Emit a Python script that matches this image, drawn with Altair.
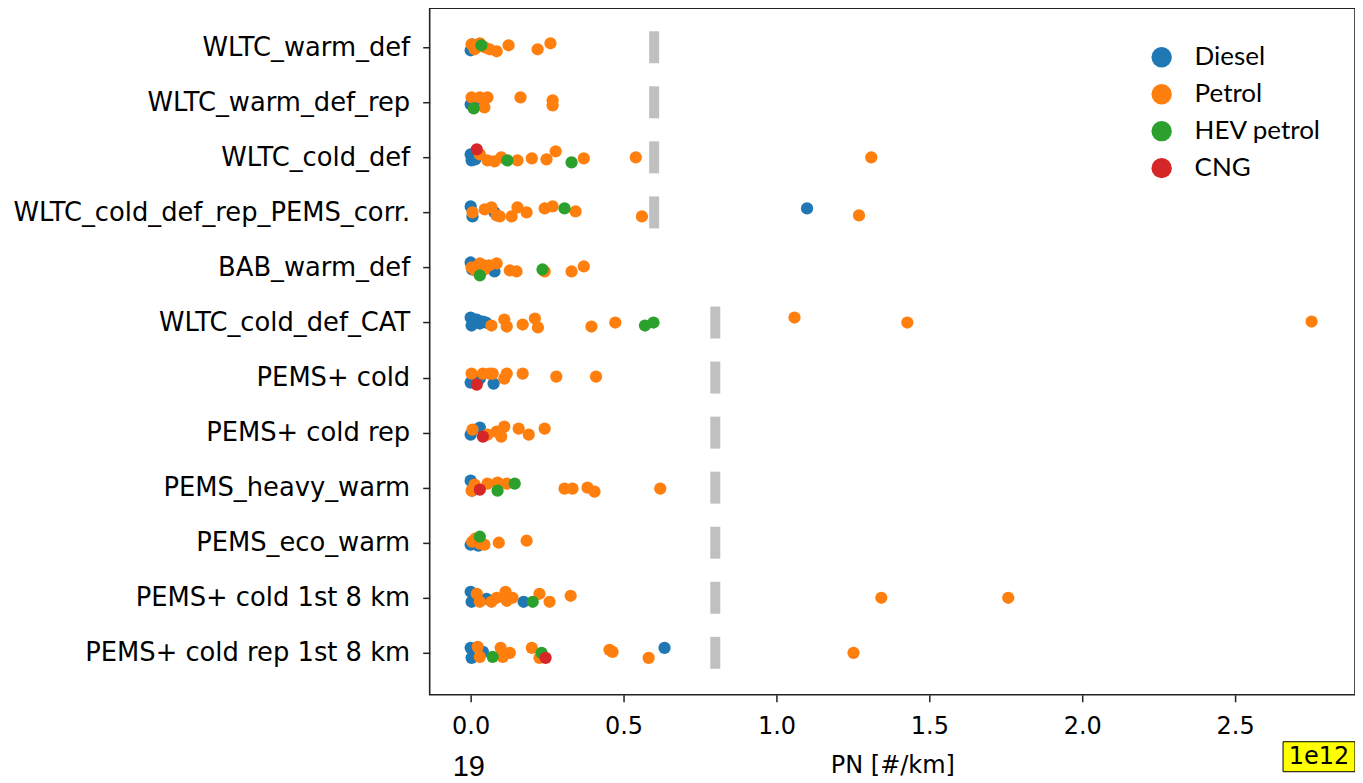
import altair as alt
import pandas as pd

categories = [
    "WLTC_warm_def",
    "WLTC_warm_def_rep",
    "WLTC_cold_def",
    "WLTC_cold_def_rep_PEMS_corr.",
    "BAB_warm_def",
    "WLTC_cold_def_CAT",
    "PEMS+ cold",
    "PEMS+ cold rep",
    "PEMS_heavy_warm",
    "PEMS_eco_warm",
    "PEMS+ cold 1st 8 km",
    "PEMS+ cold rep 1st 8 km",
]

fuels = ["Diesel", "Petrol", "HEV petrol", "CNG"]
fuel_colors = ["#1f77b4", "#ff7f0e", "#2ca02c", "#d62728"]

# (category index, PN [1e12 #/km], strip jitter)
diesel = [
    (0, 0.0, 3), (0, 0.005, -3),
    (1, 0.0, 2), (1, 0.03, 0),
    (2, 0.0, -3), (2, 0.003, 3), (2, 0.008, 0), (2, 0.012, -2), (2, 0.015, 2),
    (3, 0.0, -6), (3, 0.006, 4), (3, 0.078, 0), (3, 1.10, -4),
    (4, 0.0, -5), (4, 0.005, 2), (4, 0.04, -2), (4, 0.078, 4),
    (5, 0.0, -5), (5, 0.003, 3), (5, 0.01, 0), (5, 0.02, -3), (5, 0.03, 1), (5, 0.04, -1), (5, 0.05, 0),
    (6, 0.0, 5), (6, 0.03, 1), (6, 0.075, 6),
    (7, 0.0, 2), (7, 0.03, -5),
    (8, 0.0, -7), (8, 0.005, 3),
    (9, 0.0, 2), (9, 0.025, 3),
    (10, 0.0, -6), (10, 0.003, 4), (10, 0.052, 1), (10, 0.173, 4),
    (11, 0.0, -5), (11, 0.003, 5), (11, 0.04, -1), (11, 0.634, -5),
]

petrol = [
    (0, 0.003, -3), (0, 0.013, 2), (0, 0.03, -4), (0, 0.046, 0), (0, 0.062, 2),
    (0, 0.085, 4), (0, 0.124, -2), (0, 0.219, 2), (0, 0.261, -4),
    (1, 0.003, -5), (1, 0.03, -5), (1, 0.045, 5), (1, 0.055, -5), (1, 0.163, -5),
    (1, 0.268, -2), (1, 0.268, 3),
    (2, 0.03, -3), (2, 0.055, 3), (2, 0.078, 4), (2, 0.1, 0), (2, 0.153, 3), (2, 0.2, 1),
    (2, 0.248, 2), (2, 0.278, -6), (2, 0.37, 1), (2, 0.54, 0), (2, 1.31, 0),
    (3, 0.006, 0), (3, 0.046, -3), (3, 0.068, -5), (3, 0.085, 3), (3, 0.095, 4),
    (3, 0.134, 4), (3, 0.153, -5), (3, 0.183, 0), (3, 0.242, -4), (3, 0.268, -6),
    (3, 0.343, -1), (3, 0.56, 4), (3, 1.27, 3),
    (4, 0.003, 0), (4, 0.015, 3), (4, 0.03, -4), (4, 0.045, 2), (4, 0.06, -2),
    (4, 0.085, -4), (4, 0.128, 3), (4, 0.15, 4), (4, 0.242, 4), (4, 0.33, 4), (4, 0.37, -1),
    (5, 0.068, 3), (5, 0.11, -3), (5, 0.118, 4), (5, 0.17, 2), (5, 0.21, -4), (5, 0.22, 5),
    (5, 0.395, 4), (5, 0.473, 0), (5, 1.059, -5), (5, 1.428, 0), (5, 2.75, -1),
    (6, 0.003, -4), (6, 0.04, -4), (6, 0.062, -4), (6, 0.072, -4), (6, 0.11, 1),
    (6, 0.118, -4), (6, 0.17, -4), (6, 0.28, -1), (6, 0.41, -1),
    (7, 0.006, -3), (7, 0.055, 2), (7, 0.085, -1), (7, 0.1, 4), (7, 0.11, -6),
    (7, 0.157, -4), (7, 0.19, 2), (7, 0.242, -4),
    (8, 0.003, 3), (8, 0.013, -3), (8, 0.055, -4), (8, 0.088, -5), (8, 0.118, -4),
    (8, 0.307, 1), (8, 0.333, 1), (8, 0.382, 0), (8, 0.405, 4), (8, 0.62, 1),
    (9, 0.005, -1), (9, 0.015, -4), (9, 0.03, 1), (9, 0.045, 2), (9, 0.092, 0), (9, 0.183, -2),
    (10, 0.02, -4), (10, 0.03, 4), (10, 0.068, 4), (10, 0.085, 0), (10, 0.114, -6),
    (10, 0.118, 3), (10, 0.137, 0), (10, 0.225, -4), (10, 0.258, 4), (10, 0.327, -2),
    (10, 1.343, 0), (10, 1.758, 0),
    (11, 0.023, -6), (11, 0.03, 4), (11, 0.098, -5), (11, 0.105, 4), (11, 0.128, 0),
    (11, 0.2, -5), (11, 0.225, 5), (11, 0.454, -3), (11, 0.464, -1), (11, 0.582, 5),
    (11, 1.252, 0),
]

hev_petrol = [
    (0, 0.035, -2),
    (1, 0.01, 6),
    (2, 0.12, 3), (2, 0.33, 5),
    (3, 0.307, -4),
    (4, 0.03, 8), (4, 0.235, 2),
    (5, 0.57, 3), (5, 0.598, 0),
    (8, 0.088, 3), (8, 0.144, -4),
    (9, 0.03, -6),
    (10, 0.203, 4),
    (11, 0.072, 4), (11, 0.232, 0),
]

cng = [
    (2, 0.02, -8),
    (6, 0.02, 7),
    (7, 0.04, 4),
    (8, 0.03, 2),
    (11, 0.245, 5),
]

# limit markers (grey dashes) per test, in 1e12 #/km
limit_tests = [0, 1, 2, 3, 5, 6, 7, 8, 9, 10, 11]
limit_values = [0.6, 0.6, 0.6, 0.6, 0.8, 0.8, 0.8, 0.8, 0.8, 0.8, 0.8]

x_ticks = [0.0, 0.5, 1.0, 1.5, 2.0, 2.5]

records = []
for fuel, pts in zip(fuels, [diesel, petrol, hev_petrol, cng]):
    for ci, v, j in pts:
        records.append({"test": categories[ci], "fuel": fuel, "pn": v, "jit": j})
df = pd.DataFrame(records)

lim_df = pd.DataFrame({"test": [categories[i] for i in limit_tests], "limit": limit_values})

x_scale = alt.Scale(domain=[-0.134, 2.892], nice=False, zero=False)
y_scale = alt.Scale(type="point", range=[39, 645], padding=0)

x_enc_axis = alt.Axis(
    values=x_ticks, format=".1f", title="PN [#/km]",
    labelFont="DejaVu Sans", labelFontSize=24, labelColor="black",
    labelBaseline="alphabetic", labelPadding=32,
    tickSize=7, tickWidth=1.5, tickColor="#222",
    titleFont="DejaVu Sans", titleFontSize=24, titleFontWeight="normal",
    titleColor="black", titleBaseline="alphabetic", titleY=78,
    domain=False, grid=False,
)
y_enc_axis = alt.Axis(
    title=None, labelFont="DejaVu Sans", labelFontSize=25.8, labelColor="black",
    labelPadding=13, labelLimit=0, tickSize=7, tickWidth=1.5, tickColor="#222",
    domain=False, grid=False,
)

limits = alt.Chart(lim_df).mark_tick(color="#c0c0c0", thickness=10, size=32, opacity=1).encode(
    x=alt.X("limit:Q", scale=x_scale, axis=x_enc_axis),
    y=alt.Y("test:N", sort=categories, scale=y_scale, axis=y_enc_axis),
)

points = alt.Chart(df).mark_circle(size=150, opacity=1).encode(
    x=alt.X("pn:Q", scale=x_scale, axis=x_enc_axis),
    y=alt.Y("test:N", sort=categories, scale=y_scale, axis=y_enc_axis),
    yOffset=alt.YOffset("jit:Q", scale=alt.Scale(domain=[-27.5, 27.5], range=[-27.5, 27.5])),
    color=alt.Color(
        "fuel:N",
        scale=alt.Scale(domain=fuels, range=fuel_colors),
        legend=alt.Legend(
            orient="none", legendX=719.5, legendY=36, title=None,
            labelFont="Lato", labelFontSize=26, labelColor="black",
            symbolType="circle", symbolSize=415, symbolStrokeWidth=0,
            symbolOpacity=1, rowPadding=11, labelOffset=20, padding=0,
        ),
    ),
)

page_no = alt.Chart(pd.DataFrame({"t": ["19"]})).mark_text(
    font="Liberation Sans", fontSize=29, align="left", baseline="alphabetic", color="black"
).encode(text="t:N", x=alt.value(23), y=alt.value(768))

exp_box = alt.Chart(pd.DataFrame({"t": ["1e12"]})).mark_rect(
    fill="#ffff00", stroke="black", strokeWidth=1
).encode(x=alt.value(854), x2=alt.value(926), y=alt.value(734), y2=alt.value(764))

exp_text = alt.Chart(pd.DataFrame({"t": ["1e12"]})).mark_text(
    font="DejaVu Sans", fontSize=24, align="center", baseline="middle", color="black"
).encode(text="t:N", x=alt.value(890), y=alt.value(749))

chart = alt.layer(limits, points, page_no, exp_box, exp_text).properties(
    width=926, height=687,
    autosize=alt.AutoSizeParams(type="none"),
    padding={"left": 422, "top": 0, "right": 0, "bottom": 88},
).configure(background="white").configure_view(stroke="#222", strokeWidth=1.6)

chart.save("out.html", embed_options={"renderer": "svg", "actions": False})
